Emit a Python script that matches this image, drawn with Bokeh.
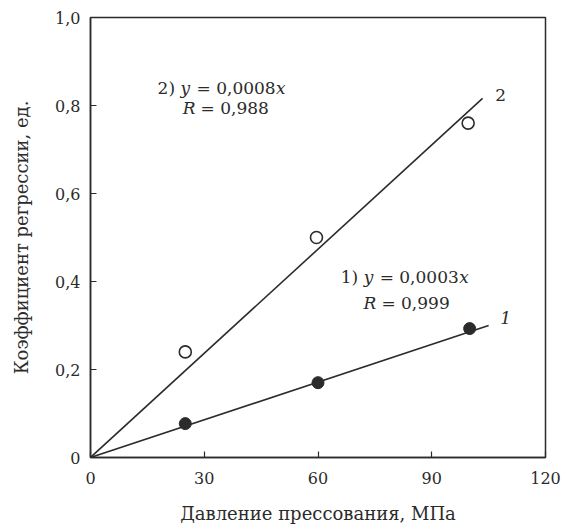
from bokeh.plotting import figure
from bokeh.models import Range1d, FixedTicker, Label
from bokeh.embed import file_html
from bokeh.resources import INLINE

# ---- data ----
x_ticks = [0, 30, 60, 90, 120]
y_ticks = [0, 0.2, 0.4, 0.6, 0.8, 1.0]
y_tick_labels = ["0", "0,2", "0,4", "0,6", "0,8", "1,0"]
x_tick_labels = ["0", "30", "60", "90", "120"]

s1_x = [25, 60, 100]
s1_y = [0.077, 0.17, 0.293]
s2_x = [25, 59.6, 99.6]
s2_y = [0.24, 0.50, 0.76]

fit1_x = [0, 105]
fit1_y = [0, 0.30]
fit2_x = [0, 103.4]
fit2_y = [0, 0.816]

x_title = "Давление прессования, МПа"
y_title = "Коэффициент регрессии, ед."

FONT = "DejaVu Serif"
INK = "#2b2b2b"
NB = "\u00a0"

p = figure(width=564, height=526, output_backend="svg", toolbar_location=None,
           x_range=Range1d(0, 120), y_range=Range1d(0, 1.0),
           min_border_left=90, min_border_right=19, min_border_top=17, min_border_bottom=69)
p.background_fill_color = "white"
p.border_fill_color = "white"
p.grid.visible = False
p.outline_line_color = INK
p.outline_line_width = 1.5

for ax in (p.xaxis[0], p.yaxis[0]):
    ax.axis_line_color = INK
    ax.axis_line_width = 1.5
    ax.major_tick_line_color = INK
    ax.major_tick_line_width = 1.2
    ax.major_tick_in = 6
    ax.major_tick_out = 0
    ax.minor_tick_line_color = None
    ax.major_label_text_font = FONT
    ax.major_label_text_font_size = "16px"
    ax.major_label_text_color = INK
    ax.axis_label_text_font = FONT
    ax.axis_label_text_font_size = "18px"
    ax.axis_label_text_font_style = "normal"
    ax.axis_label_text_color = INK

p.xaxis.ticker = FixedTicker(ticks=x_ticks)
p.yaxis.ticker = FixedTicker(ticks=y_ticks)
p.xaxis.major_label_overrides = {float(t): l for t, l in zip(x_ticks, x_tick_labels)}
p.yaxis.major_label_overrides = {float(t): l for t, l in zip(y_ticks, y_tick_labels)}
p.xaxis.axis_label = x_title
p.yaxis.axis_label = y_title
p.xaxis.major_label_standoff = 14
p.yaxis.major_label_standoff = 10
p.xaxis.axis_label_standoff = 16
p.yaxis.axis_label_standoff = 20

p.line(fit1_x, fit1_y, line_color=INK, line_width=1.6)
p.line(fit2_x, fit2_y, line_color=INK, line_width=1.6)

p.scatter(s1_x, s1_y, size=12, marker="circle", fill_color=INK, line_color=INK)
p.scatter(s2_x, s2_y, size=12, marker="circle", fill_color="white", line_color=INK, line_width=1.6)

def frag(x, y, parts, size="17px"):
    off = 0
    for txt, style, w in parts:
        p.add_layout(Label(x=x, y=y, x_offset=off, text=txt, text_font=FONT,
                           text_font_size=size, text_font_style=style,
                           text_color=INK, text_baseline="middle", text_align="left"))
        off += w

frag(17.7, 0.84, [("2)" + NB, "normal", 23), ("y", "italic", 10.5),
                  (NB + "=" + NB + "0,0008", "normal", 85), ("x", "italic", 10)])
frag(24.3, 0.795, [("R", "italic", 12.5), (NB + "=" + NB + "0,988", "normal", 80)])
frag(66, 0.41, [("1)" + NB, "normal", 23), ("y", "italic", 10.5),
                (NB + "=" + NB + "0,0003", "normal", 85), ("x", "italic", 10)])
frag(72, 0.352, [("R", "italic", 12.5), (NB + "=" + NB + "0,999", "normal", 80)])

p.add_layout(Label(x=109.5, y=0.316, text="1", text_font=FONT, text_font_size="17px",
                   text_font_style="italic", text_color=INK, text_baseline="middle", text_align="center"))
p.add_layout(Label(x=108.2, y=0.823, text="2", text_font=FONT, text_font_size="17px",
                   text_font_style="normal", text_color=INK, text_baseline="middle", text_align="center"))

open("out.html", "w").write(file_html(p, INLINE))
